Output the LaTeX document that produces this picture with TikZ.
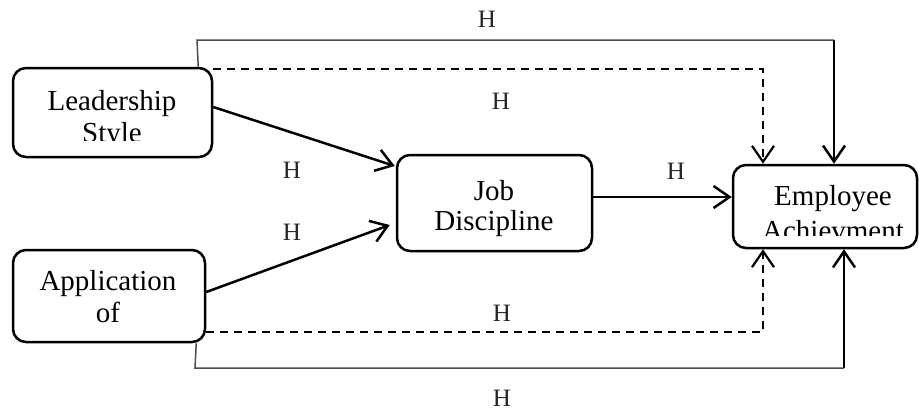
\documentclass[tikz,border=0pt]{standalone}
\usepackage{fontspec}
\setmainfont{Liberation Serif}
\usetikzlibrary{arrows.meta}
\tikzset{
  box/.style={draw, line width=2.5pt, rounded corners=13pt, inner sep=0pt},
  lbl/.style={font=\fontsize{29}{30}\selectfont, anchor=base, inner sep=0pt},
  hlbl/.style={font=\fontsize{25}{25}\selectfont, inner sep=0pt, text=black!85},
  arr/.style={line width=2.5pt, -{Straight Barb[length=16pt,width=22pt]}},
  darr/.style={line width=2.2pt, dash pattern=on 8pt off 6pt, -{Straight Barb[length=16pt,width=22pt,line width=2.2pt]}},
  thin/.style={line width=1.5pt, draw=black!70},
}
\begin{document}
\begin{tikzpicture}[x=1pt,y=-1pt]
\useasboundingbox (0,0) rectangle (919,410);
% boxes
\node[box, minimum width=199pt, minimum height=89pt] (L) at (112.5,112.5) {};
\node[box, minimum width=192pt, minimum height=92pt] (A) at (109,296) {};
\node[box, minimum width=195pt, minimum height=96pt] (J) at (494.5,203) {};
\node[box, minimum width=184pt, minimum height=83pt] (E) at (825,206.5) {};
% texts
\begin{scope}
  \clip (0,60) rectangle (300,140);
  \node[lbl] (lt1) at (112,110) {Leadership};
  \node[lbl] (lt2) at (112,142) {Style};
\end{scope}
\node[lbl] (at1) at (108,290) {Application};
\node[lbl] (at2) at (108,322) {of};
\node[lbl] (jt1) at (494,200) {Job};
\node[lbl] (jt2) at (494,230) {Discipline};
\begin{scope}
  \clip (700,160) rectangle (919,235);
  \node[lbl] (et1) at (833,205) {Employee};
  \node[lbl] (et2) at (833,240) {Achievment};
\end{scope}
% direct arrows
\draw[arr] ([yshift=5.5pt]L.east) -- ([xshift=-1pt,yshift=37pt]J.west);
\draw[arr] ([yshift=4pt]A.east) -- ([xshift=-6pt,yshift=-22pt]J.west);
\draw[arr] ([yshift=6pt]J.east) -- ([yshift=6pt]J.east -| E.west);
% top solid
\coordinate (t1) at ([xshift=-15pt]L.north east);
\coordinate (t2) at (197,40);
\coordinate (t3) at (834,40);
\draw[thin] (t1) -- (t2) -- (t3);
\draw[arr] (t3) -- (t3 |- E.north);
% top dashed
\draw[darr] ([yshift=-2pt]L.north east) -| ([xshift=-62pt]E.north);
% bottom dashed
\draw[darr] ([yshift=11pt]A.south east) -| ([xshift=-62pt]E.south);
% bottom solid
\coordinate (b1) at ([xshift=-10pt]A.south east);
\coordinate (b2) at (195,368);
\coordinate (b3) at (844,368);
\draw[thin] (b1) -- (b2) -- (b3);
\draw[arr] (b3) -- (b3 |- E.south);
% H labels
\node[hlbl] (h1) at (487,19) {H};
\node[hlbl] (h2) at (501,101) {H};
\node[hlbl] (h3) at (292,170) {H};
\node[hlbl] (h4) at (292,232) {H};
\node[hlbl] (h5) at (676,171) {H};
\node[hlbl] (h6) at (502,313) {H};
\node[hlbl] (h7) at (502,398) {H};
\end{tikzpicture}
\end{document}
